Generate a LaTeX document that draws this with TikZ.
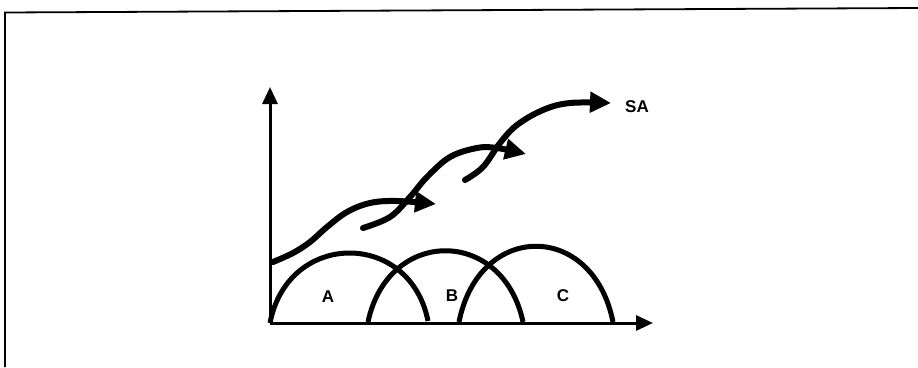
\documentclass[tikz,border=0pt]{standalone}
\usepackage{fontspec}
\setmainfont{Liberation Sans}
\usetikzlibrary{arrows.meta}
\begin{document}
\begin{tikzpicture}[x=1pt,y=-1pt,
  axis/.style={line width=3pt,-{Triangle[length=17pt,width=15pt]}},
  arcline/.style={line width=5pt},
  wave/.style={line width=6pt,line cap=round,-{Triangle[length=21pt,width=20pt]}},
  lbl/.style={font=\bfseries\fontsize{17}{19}\selectfont,inner sep=0pt}]
\useasboundingbox (0,0) rectangle (918,367);
% frame
\coordinate (f1) at (5,367);
\coordinate (f2) at (5,12.5);
\coordinate (f3) at (918,8);
\draw[line width=1.8pt] (f1) -- (f2) -- (f3);
% axes
\coordinate (O) at (270,323);
\coordinate (ytip) at (270,87);
\coordinate (xtip) at (653,323);
\draw[axis] (O) -- (ytip);
\draw[axis] (O) -- (xtip);
% arcs
\coordinate (a0) at (270,323); \coordinate (a1) at (428,321);
\coordinate (b0) at (368,322); \coordinate (b1) at (523,322);
\coordinate (c0) at (459,322); \coordinate (c1) at (613,322);
\draw[arcline] (a0) .. controls (288,230) and (410,230) .. (a1);
\draw[arcline] (b0) .. controls (388,227) and (503,227) .. (b1);
\draw[arcline] (c0) .. controls (479,221) and (593,221) .. (c1);
\node[lbl] (A) at (328,297) {A};
\node[lbl] (B) at (452,296) {B};
\node[lbl] (C) at (563,296) {C};
% waves
\draw[wave] plot[smooth,tension=0.6] coordinates {(273,262) (293,253) (310,242) (327,227) (347,212) (370,203) (397,201) (436,204)};
\draw[wave] plot[smooth,tension=0.6] coordinates {(363,228) (390,217) (410,197) (427,177) (450,157) (477,148) (497,148) (526,154)};
\draw[wave] plot[smooth,tension=0.6] coordinates {(465,180) (483,167) (500,143) (517,125) (543,110) (570,103) (611,103)};
\node[lbl] (SA) at (637,107) {SA};
\end{tikzpicture}
\end{document}
